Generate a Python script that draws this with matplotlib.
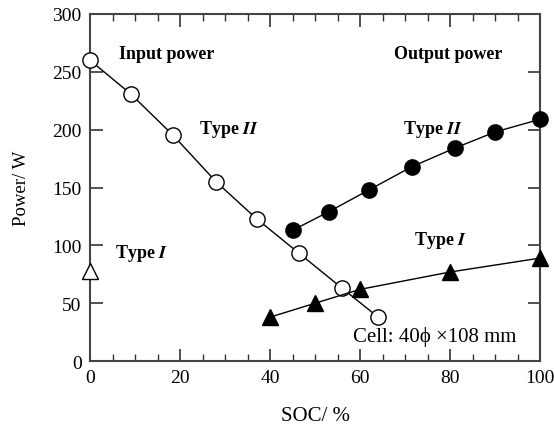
import matplotlib
matplotlib.use("Agg")
import matplotlib.pyplot as plt
from matplotlib.ticker import MultipleLocator

plt.rcParams['font.family'] = ['Liberation Serif', 'DejaVu Serif']
plt.rcParams['mathtext.fontset'] = 'stix'

# input power, open circles
soc_in = [0, 9, 18.5, 28, 37, 46.5, 56, 64]
p_in = [260, 231, 195, 155, 123, 93, 63, 38]

# output power, type II (filled circles)
soc_out2 = [45, 53, 62, 71.5, 81, 90, 100]
p_out2 = [113, 129, 148, 168, 184, 198, 209]

# output power, type I (filled triangles)
soc_out1 = [40, 50, 60, 80, 100]
p_out1 = [38, 50, 62, 77, 89]

# input power, type I (single open triangle)
soc_in1 = [0]
p_in1 = [78]

fig = plt.figure(figsize=(5.54, 4.27), dpi=100)
ax = fig.add_axes([0.1625, 0.152, 0.8125, 0.813])

ax.plot(soc_in, p_in, color='black', lw=1, marker='o', ms=11,
        mfc='white', mec='black', mew=1, clip_on=False, zorder=3)
ax.plot(soc_out2, p_out2, color='black', lw=1, marker='o', ms=11,
        mfc='black', mec='black', clip_on=False, zorder=3)
ax.plot(soc_out1, p_out1, color='black', lw=1, marker='^', ms=11,
        mfc='black', mec='black', clip_on=False, zorder=3)
ax.plot(soc_in1, p_in1, ls='none', marker='^', ms=12,
        mfc='white', mec='black', mew=1, clip_on=False, zorder=3)

ax.set_xlim(0, 100)
ax.set_ylim(0, 300)
ax.xaxis.set_major_locator(MultipleLocator(20))
ax.xaxis.set_minor_locator(MultipleLocator(5))
ax.yaxis.set_major_locator(MultipleLocator(50))
ax.tick_params(axis='both', which='major', direction='in', length=9, width=1.2,
               top=True, right=True, labelsize=14, pad=6, colors='#333333',
               labelcolor='black')
ax.tick_params(axis='x', which='minor', direction='in', length=5, width=1,
               top=True, colors='#333333')
for s in ax.spines.values():
    s.set_linewidth(1.5)
    s.set_color('#444444')

ax.set_xlabel('SOC/ %', fontsize=15, labelpad=14)
ax.set_ylabel('Power/ W', fontsize=13.5, labelpad=16)

bold = dict(fontsize=13, fontweight='bold')
ax.text(6.5, 262, 'Input power', **bold)
ax.text(67.5, 262, 'Output power', **bold)
ax.text(24.3, 197, r'Type $\mathbfit{II}$', **bold)
ax.text(69.5, 197, r'Type $\mathbfit{II}$', **bold)
ax.text(5.5, 90, r'Type $\mathbfit{I}$', **bold)
ax.text(72, 101, r'Type $\mathbfit{I}$', **bold)
ax.text(58.4, 17, 'Cell: 40\u03d5 \u00d7108 mm', fontsize=15)

fig.savefig('out.png', dpi=100)
